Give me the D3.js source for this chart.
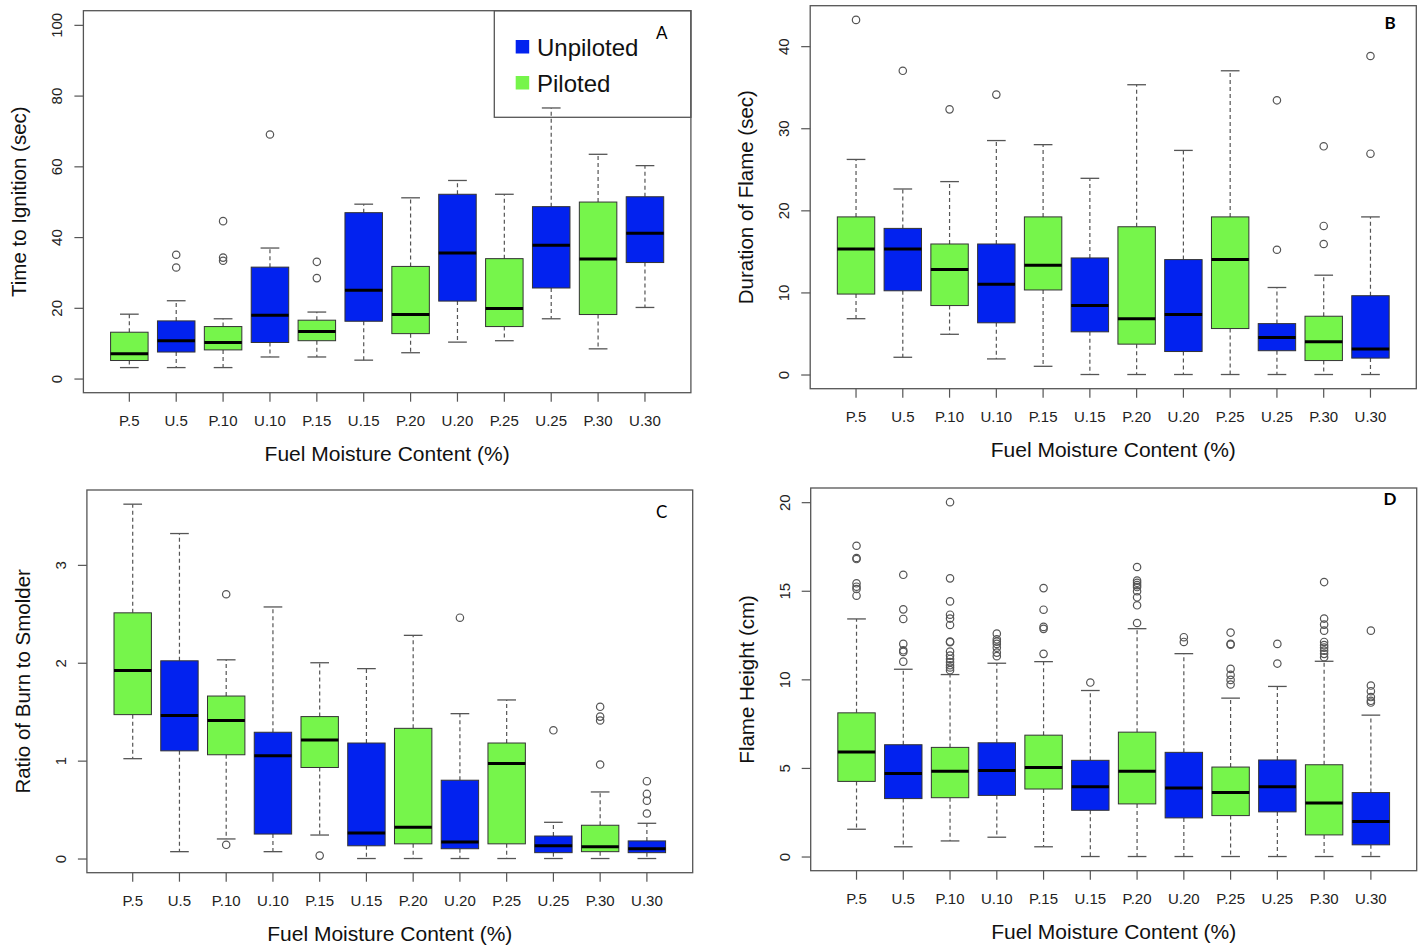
<!DOCTYPE html>
<html><head><meta charset="utf-8">
<script src="https://cdn.jsdelivr.net/npm/d3@7"></script>
<style>
body{margin:0;background:#fff;}
svg{display:block;font-family:"Liberation Sans",Arial,Helvetica,sans-serif;}
</style>
</head><body>
<svg id="chart" width="1424" height="949"></svg>
<script>
// ---------- DATA ----------
const categories = ["P.5","U.5","P.10","U.10","P.15","U.15","P.20","U.20","P.25","U.25","P.30","U.30"];
const seriesNames = ["Unpiloted","Piloted"];
const xTitle = "Fuel Moisture Content (%)";

// each row: [lower whisker, Q1, median, Q3, upper whisker]
const ignitionStats = [
  [3.1,5.1,7.0,13.1,18.2],
  [3.1,7.5,10.7,16.3,22.0],
  [3.1,8.1,10.2,14.7,16.9],
  [6.1,10.2,17.9,31.5,36.9],
  [6.1,10.7,13.3,16.5,18.8],
  [5.2,16.2,25.0,46.9,49.3],
  [7.3,12.7,18.1,31.7,51.1],
  [10.3,21.9,35.5,52.1,56.0],
  [10.7,14.7,19.8,33.9,52.1],
  [16.9,25.6,37.7,48.6,76.5],
  [8.4,18.1,33.8,49.9,63.4],
  [20.1,32.8,41.1,51.4,60.2]
];
const ignitionOutliers = [[],[35.0,31.4],[44.5,34.2,33.3],[69.0],[33.0,28.4],[],[],[],[],[],[],[]];
const ignitionTicks = [0,20,40,60,80,100];

const durationStats = [
  [6.8,9.8,15.3,19.2,26.2],
  [2.1,10.2,15.3,17.8,22.6],
  [4.9,8.4,12.8,15.9,23.5],
  [1.9,6.3,11.0,15.9,28.5],
  [1.0,10.3,13.3,19.2,28.0],
  [0,5.2,8.4,14.2,23.9],
  [0,3.7,6.8,18.0,35.3],
  [0,2.8,7.3,14.0,27.3],
  [0,5.6,14.0,19.2,37.0],
  [0,2.9,4.5,6.2,10.6],
  [0,1.7,4.0,7.1,12.1],
  [0,2.0,3.1,9.6,19.2]
];
const durationOutliers = [[43.2],[37.0],[32.3],[34.1],[],[],[],[],[],[33.4,15.2],[27.8,18.1,15.9],[38.8,26.9]];
const durationTicks = [0,10,20,30,40];

const ratioStats = [
  [1.02,1.47,1.92,2.51,3.62],
  [0.07,1.10,1.46,2.02,3.32],
  [0.20,1.06,1.41,1.66,2.03],
  [0.07,0.25,1.05,1.29,2.57],
  [0.24,0.93,1.21,1.45,2.00],
  [0,0.13,0.26,1.18,1.94],
  [0,0.15,0.32,1.33,2.28],
  [0,0.10,0.17,0.80,1.48],
  [0,0.15,0.97,1.18,1.62],
  [0,0.06,0.13,0.23,0.37],
  [0,0.07,0.12,0.34,0.68],
  [0,0.06,0.10,0.18,0.36]
];
const ratioOutliers = [[],[],[2.70,0.14],[],[0.03],[],[],[2.46],[],[1.31],[1.55,1.45,1.41,0.96],[0.79,0.66,0.59,0.46]];
const ratioTicks = [0,1,2,3];

const heightStats = [
  [1.54,4.24,5.90,8.11,13.41],
  [0.55,3.27,4.69,6.31,10.57],
  [0.88,3.32,4.81,6.16,10.27],
  [1.09,3.45,4.86,6.42,10.91],
  [0.55,3.81,5.03,6.85,11.0],
  [0,2.61,3.94,5.43,9.37],
  [0,2.97,4.81,7.02,12.86],
  [0,2.18,3.87,5.88,11.45],
  [0,2.31,3.61,5.05,8.94],
  [0,2.52,3.94,5.45,9.6],
  [0,1.22,3.02,5.18,11.02],
  [0,0.66,1.97,3.61,7.98]
];
const heightOutliers = [
  [17.54,16.85,16.79,15.42,15.23,15.1,14.72],
  [15.9,13.95,13.41,12.0,11.64,11.55,11.0],
  [20.0,15.7,14.4,13.65,13.43,13.07,12.13,12.1,11.57,11.34,11.15,10.97,10.8,10.67,10.52],
  [12.58,12.26,12.13,12.0,11.79,11.51,11.31],
  [15.15,13.93,12.96,12.85,11.44],
  [9.82],
  [16.34,15.57,15.45,15.32,15.21,14.97,14.63,14.18,13.18],
  [12.38,12.11],
  [12.64,12.0,11.96,10.59,10.25,9.97,9.71],
  [12.0,10.89],
  [15.49,13.43,13.09,12.75,12.11,11.93,11.79,11.62,11.44,11.25],
  [12.75,9.65,9.33,9.0,8.79,8.69]
];
const heightTicks = [0,5,10,15,20];

// ---------- STYLE / LAYOUT ----------
const colorU = "#0222ef";
const colorP = "#76f54b";
const panels = [
  {letter:"A", stats:ignitionStats, outliers:ignitionOutliers, ticks:ignitionTicks, ylim:[0,100],
   ylabel:"Time to Ignition (sec)", f:{l:83.4,r:690.9,t:10.7,b:392.7}, lp:{x:661.7,y:38.5,w:400}, legend:true},
  {letter:"B", stats:durationStats, outliers:durationOutliers, ticks:durationTicks, ylim:null,
   ylabel:"Duration of Flame (sec)", f:{l:810.2,r:1416.3,t:5.7,b:388.7}, lp:{x:1390,y:28.5,w:700}},
  {letter:"C", stats:ratioStats, outliers:ratioOutliers, ticks:ratioTicks, ylim:null,
   ylabel:"Ratio of Burn to Smolder", f:{l:86.9,r:692.7,t:490,b:872.7}, lp:{x:661.7,y:518,w:400}},
  {letter:"D", stats:heightStats, outliers:heightOutliers, ticks:heightTicks, ylim:null,
   ylabel:"Flame Height (cm)", f:{l:810.7,r:1416.7,t:488,b:870.7}, lp:{x:1390,y:505,w:700}}
];

const svg = d3.select("#chart");

panels.forEach(p => {
  const f = p.f;
  let lim = p.ylim;
  if (!lim) {
    const all = p.stats.flat().concat(p.outliers.flat());
    lim = d3.extent(all);
  }
  const pad = 0.04 * (lim[1] - lim[0]);
  const y = d3.scaleLinear().domain([lim[0]-pad, lim[1]+pad]).range([f.b, f.t]);
  const x = d3.scaleBand().domain(categories).range([f.l, f.r]).paddingInner(0).paddingOuter(0.48);
  const bw = x.bandwidth() * 0.8;
  const g = svg.append("g");

  // legend (drawn first, no fill, as in reference the whisker shows through)
  if (p.legend) {
    const lg = g.append("g");
    lg.append("rect").attr("x",494.3).attr("y",f.t).attr("width",f.r-494.3).attr("height",117.3-f.t)
      .attr("fill","none").attr("stroke","#555").attr("stroke-width",1.3);
    const cols = [colorU, colorP];
    seriesNames.forEach((name, k) => {
      const yy = 40 + k*36;
      lg.append("rect").attr("x",515.7).attr("y",yy).attr("width",13.5).attr("height",13.5).attr("fill",cols[k]);
      lg.append("text").attr("x",537).attr("y",yy+15.5).attr("font-size",24).attr("fill","#111").text(name);
    });
  }

  // boxes
  categories.forEach((cat, i) => {
    const s = p.stats[i];
    const cx = x(cat) + x.bandwidth()/2;
    const fill = cat.startsWith("P") ? colorP : colorU;
    const bg = g.append("g");
    bg.append("line").attr("x1",cx).attr("x2",cx).attr("y1",y(s[3])).attr("y2",y(s[4]))
      .attr("stroke","#555").attr("stroke-width",1.2).attr("stroke-dasharray","4,3");
    bg.append("line").attr("x1",cx).attr("x2",cx).attr("y1",y(s[1])).attr("y2",y(s[0]))
      .attr("stroke","#555").attr("stroke-width",1.2).attr("stroke-dasharray","4,3");
    [s[0], s[4]].forEach(v => {
      bg.append("line").attr("x1",cx-bw/4).attr("x2",cx+bw/4).attr("y1",y(v)).attr("y2",y(v))
        .attr("stroke","#555").attr("stroke-width",1.3);
    });
    bg.append("rect").attr("x",cx-bw/2).attr("width",bw)
      .attr("y",y(s[3])).attr("height",Math.max(0.5,y(s[1])-y(s[3])))
      .attr("fill",fill).attr("stroke","#333").attr("stroke-width",1);
    bg.append("line").attr("x1",cx-bw/2).attr("x2",cx+bw/2).attr("y1",y(s[2])).attr("y2",y(s[2]))
      .attr("stroke","#000").attr("stroke-width",3);
    bg.selectAll("circle").data(p.outliers[i]).join("circle")
      .attr("cx",cx).attr("cy",d=>y(d)).attr("r",3.7)
      .attr("fill","none").attr("stroke","#555").attr("stroke-width",1.2);
  });

  // frame
  g.append("rect").attr("x",f.l).attr("y",f.t).attr("width",f.r-f.l).attr("height",f.b-f.t)
    .attr("fill","none").attr("stroke","#555").attr("stroke-width",1.3);

  // y axis
  const ya = g.append("g").attr("transform",`translate(${f.l},0)`)
    .call(d3.axisLeft(y).tickValues(p.ticks).tickSize(9).tickFormat(d3.format("d")));
  ya.select(".domain").remove();
  ya.selectAll(".tick line").attr("stroke","#555").attr("stroke-width",1.2);
  ya.selectAll(".tick text").attr("x",0).attr("dy",0)
    .attr("transform","translate(-21,0) rotate(-90)")
    .attr("text-anchor","middle").attr("fill","#222")
    .style("font-size","15px").style("font-family","Liberation Sans, Arial, sans-serif");

  // x axis
  const xa = g.append("g").attr("transform",`translate(0,${f.b})`)
    .call(d3.axisBottom(x).tickSize(9));
  xa.select(".domain").remove();
  xa.selectAll(".tick line").attr("stroke","#555").attr("stroke-width",1.2);
  xa.selectAll(".tick text").attr("y",33).attr("dy",0).attr("fill","#222")
    .style("font-size","15px").style("font-family","Liberation Sans, Arial, sans-serif");

  // titles
  g.append("text").attr("x",(f.l+f.r)/2).attr("y",f.b+68.5).attr("text-anchor","middle")
    .attr("font-size",21).attr("fill","#111").text(xTitle);
  g.append("text").attr("transform",`translate(${f.l-57},${(f.t+f.b)/2}) rotate(-90)`)
    .attr("text-anchor","middle").attr("font-size",20.5).attr("fill","#111").text(p.ylabel);

  // panel letter
  g.append("text").attr("x",p.lp.x).attr("y",p.lp.y).attr("text-anchor","middle")
    .attr("font-family","Lato, 'Open Sans', sans-serif").attr("font-weight",p.lp.w)
    .attr("font-size",17).attr("fill","#000").text(p.letter);
});
</script>
</body></html>
